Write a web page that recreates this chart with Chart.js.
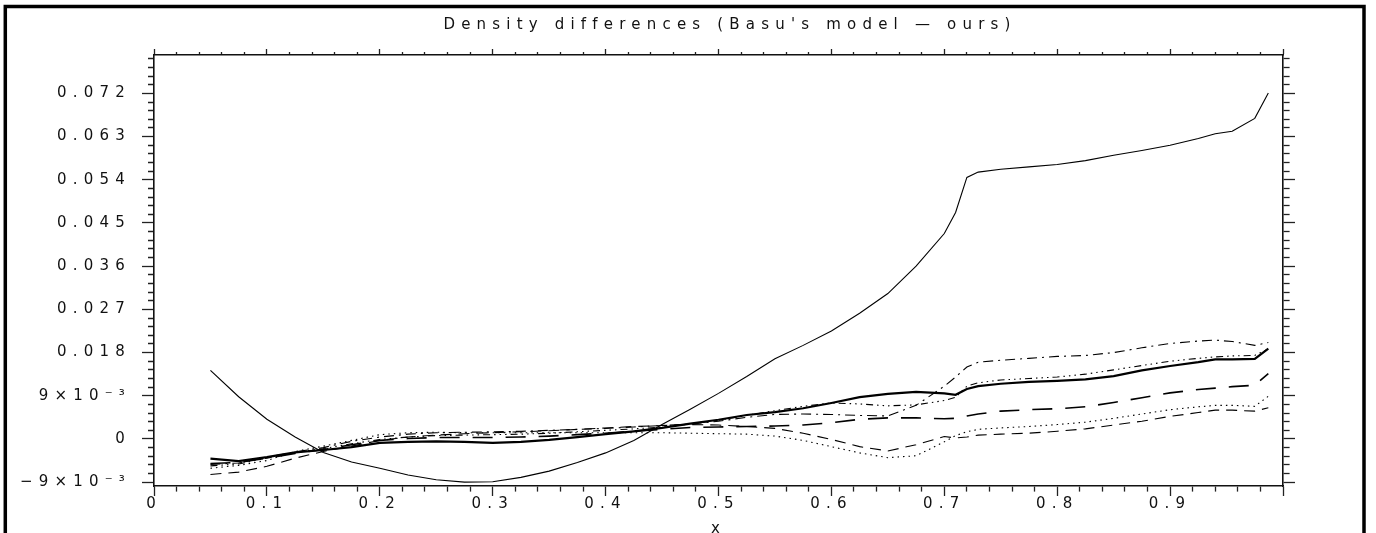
<!DOCTYPE html>
<html>
<head>
<meta charset="utf-8">
<script src="https://cdn.jsdelivr.net/npm/chart.js@4/dist/chart.umd.min.js"></script>
<style>
  html, body { margin: 0; padding: 0; background: #fff; }
  canvas { display: block; }
</style>
</head>
<body>
<canvas id="myChart" width="1376" height="533"></canvas>
<script>
// x positions shared by every curve
const xValues = [0.05, 0.075, 0.1, 0.125, 0.15, 0.175, 0.2, 0.225, 0.25, 0.275,
  0.3, 0.325, 0.35, 0.375, 0.4, 0.425, 0.45, 0.475, 0.5, 0.525,
  0.55, 0.575, 0.6, 0.625, 0.65, 0.675, 0.7, 0.71, 0.72, 0.73,
  0.75, 0.775, 0.8, 0.825, 0.85, 0.875, 0.9, 0.925, 0.94, 0.955,
  0.975, 0.987];

const thinSolid = [0.0143, 0.0088, 0.0041, 0.0004, -0.0028, -0.0048, -0.0061, -0.0075, -0.0085, -0.0090,
  -0.0089, -0.0080, -0.0067, -0.0049, -0.0029, -0.0003, 0.0030, 0.0062, 0.0095, 0.0130,
  0.0167, 0.0195, 0.0225, 0.0262, 0.0303, 0.0360, 0.0428, 0.0472, 0.0545, 0.0556,
  0.0562, 0.0567, 0.0572, 0.0580, 0.0591, 0.0601, 0.0612, 0.0626, 0.0636, 0.0641,
  0.0668, 0.0721];

const thickSolid = [-0.0041, -0.0046, -0.0038, -0.0028, -0.0023, -0.0017, -0.0008, -0.0006, -0.0005, -0.0006,
  -0.0008, -0.0006, -0.0002, 0.0004, 0.0010, 0.0016, 0.0023, 0.0032, 0.0040, 0.0050,
  0.0056, 0.0064, 0.0075, 0.0087, 0.0094, 0.0098, 0.0095, 0.0092, 0.0104, 0.0110,
  0.0115, 0.0119, 0.0121, 0.0124, 0.0131, 0.0143, 0.0152, 0.0160, 0.0166, 0.0166,
  0.0167, 0.0188];

const dashDot = [-0.0053, -0.0050, -0.0038, -0.0027, -0.0018, -0.0005, 0.0004, 0.0010, 0.0013, 0.0014,
  0.0015, 0.0016, 0.0018, 0.0020, 0.0022, 0.0025, 0.0028, 0.0031, 0.0037, 0.0045,
  0.0051, 0.0052, 0.0051, 0.0049, 0.0048, 0.0070, 0.0110, 0.0129, 0.0150, 0.0160,
  0.0164, 0.0168, 0.0172, 0.0174, 0.0180, 0.0190, 0.0199, 0.0204, 0.0206, 0.0203,
  0.0195, 0.0201];

const dashDotDot = [-0.0056, -0.0052, -0.0040, -0.0028, -0.0020, -0.0010, -0.0001, 0.0004, 0.0007, 0.0008,
  0.0009, 0.0010, 0.0012, 0.0015, 0.0018, 0.0021, 0.0025, 0.0031, 0.0039, 0.0049,
  0.0059, 0.0068, 0.0075, 0.0073, 0.0069, 0.0071, 0.0080, 0.0087, 0.0110, 0.0117,
  0.0123, 0.0126, 0.0129, 0.0135, 0.0144, 0.0153, 0.0162, 0.0168, 0.0171, 0.0173,
  0.0174, 0.0188];

const longDash = [-0.0051, -0.0049, -0.0040, -0.0030, -0.0022, -0.0012, -0.0003, 0.0001, 0.0003, 0.0003,
  0.0003, 0.0004, 0.0006, 0.0009, 0.0012, 0.0016, 0.0020, 0.0024, 0.0025, 0.0026,
  0.0027, 0.0029, 0.0034, 0.0041, 0.0044, 0.0044, 0.0042, 0.0043, 0.0048, 0.0052,
  0.0058, 0.0061, 0.0063, 0.0067, 0.0076, 0.0086, 0.0096, 0.0103, 0.0106, 0.0109,
  0.0112, 0.0136];

const dotted = [-0.0061, -0.0055, -0.0045, -0.0026, -0.0015, -0.0003, 0.0009, 0.0013, 0.0014, 0.0013,
  0.0013, 0.0013, 0.0013, 0.0013, 0.0013, 0.0013, 0.0013, 0.0012, 0.0011, 0.0010,
  0.0006, -0.0003, -0.0016, -0.0029, -0.0039, -0.0035, -0.0006, 0.0007, 0.0015, 0.0020,
  0.0023, 0.0026, 0.0030, 0.0035, 0.0043, 0.0052, 0.0061, 0.0067, 0.0070, 0.0070,
  0.0068, 0.0089];

const dashed = [-0.0074, -0.0069, -0.0057, -0.0040, -0.0026, -0.0015, -0.0003, 0.0004, 0.0008, 0.0011,
  0.0013, 0.0015, 0.0017, 0.0020, 0.0023, 0.0026, 0.0028, 0.0030, 0.0029, 0.0026,
  0.0022, 0.0012, -0.0001, -0.0016, -0.0025, -0.0012, 0.0005, 0.0002, 0.0004, 0.0008,
  0.0010, 0.0012, 0.0016, 0.0021, 0.0029, 0.0037, 0.0047, 0.0055, 0.0060, 0.0060,
  0.0058, 0.0065];

const xMajorTicks = [0, 0.1, 0.2, 0.3, 0.4, 0.5, 0.6, 0.7, 0.8, 0.9, 1];
const xTickLabels = ['0', '0.1', '0.2', '0.3', '0.4', '0.5', '0.6', '0.7', '0.8', '0.9', ''];
const yMajorTicks = [-0.009, 0, 0.009, 0.018, 0.027, 0.036, 0.045, 0.054, 0.063, 0.072];
const yTickLabels = ['\u22129\u00d710\u207b\u00b3', '0', '9\u00d710\u207b\u00b3', '0.018', '0.027',
  '0.036', '0.045', '0.054', '0.063', '0.072'];

const FONT = { family: 'DejaVu Sans', size: 15, weight: 'normal' };
const LETTER_SPACING = '6.2px';

function stepTicks(start, end, step) {
  const out = [];
  for (let v = start; v <= end + 1e-9; v += step) {
    out.push(+v.toFixed(6));
  }
  return out;
}

function isMajor(value, majors) {
  return majors.some(m => Math.abs(m - value) < 1e-7);
}

function labelFor(value, majors, labels) {
  const i = majors.findIndex(m => Math.abs(m - value) < 1e-7);
  return i === -1 ? '' : labels[i];
}

function makeSeries(values, width, dash) {
  return {
    data: xValues.map((x, i) => ({ x, y: values[i] })),
    borderColor: '#000',
    borderWidth: width,
    borderDash: dash,
    pointRadius: 0,
    tension: 0,
    fill: false
  };
}

// tick marks: majors full length, minors only the part next to the axis
function axis(position, opts) {
  const horizontal = position === 'top' || position === 'bottom';
  const drawsInward = position === 'top' || position === 'left';
  const minorDash = drawsInward
    ? [0, opts.tickLength - opts.minorLength, opts.minorLength, 100]
    : [opts.minorLength, 100];
  return {
    type: 'linear',
    position,
    axis: horizontal ? 'x' : 'y',
    min: opts.min,
    max: opts.max,
    afterBuildTicks: scale => {
      scale.ticks = opts.ticks.map(value => ({ value }));
    },
    afterFit: scale => {
      if (horizontal) scale.height = opts.size;
      else scale.width = opts.size;
    },
    border: { display: true, color: '#111', width: 1.6 },
    grid: {
      drawOnChartArea: false,
      drawTicks: true,
      tickLength: opts.tickLength,
      tickWidth: 1.3,
      tickColor: '#222',
      tickBorderDash: ctx => isMajor(ctx.tick.value, opts.majors) ? [] : minorDash
    },
    ticks: {
      display: opts.showLabels,
      autoSkip: false,
      maxRotation: 0,
      minRotation: 0,
      padding: opts.padding || 0,
      color: '#111',
      font: FONT,
      callback: value => labelFor(value, opts.majors, opts.labels)
    },
    title: opts.title || { display: false }
  };
}

const spacingPlugin = {
  id: 'spacingAndFrame',
  beforeLayout(chart) { chart.ctx.letterSpacing = LETTER_SPACING; },
  beforeDraw(chart) { chart.ctx.letterSpacing = LETTER_SPACING; },
  afterDraw(chart) {
    const ctx = chart.ctx;
    ctx.save();
    ctx.lineWidth = 3.5;
    ctx.strokeStyle = '#000';
    ctx.beginPath();
    ctx.moveTo(5.3, chart.height + 5);
    ctx.lineTo(5.3, 6.5);
    ctx.lineTo(1364, 6.5);
    ctx.lineTo(1364, chart.height + 5);
    ctx.stroke();
    ctx.restore();
  }
};

const xTicks = stepTicks(0, 1, 0.02);
const yTicks = stepTicks(-0.009, 0.0792, 0.0018);

new Chart(document.getElementById('myChart'), {
  type: 'line',
  data: {
    datasets: [
      makeSeries(thinSolid, 1.1, []),
      makeSeries(thickSolid, 2.2, []),
      makeSeries(dashDot, 1.1, [10, 5, 2, 5]),
      makeSeries(dashDotDot, 1.1, [7, 4, 1.5, 4, 1.5, 4, 1.5, 4]),
      makeSeries(longDash, 1.6, [20, 13]),
      makeSeries(dotted, 1.1, [1.5, 4]),
      makeSeries(dashed, 1.1, [11, 7])
    ]
  },
  options: {
    responsive: false,
    animation: false,
    devicePixelRatio: 1,
    layout: { padding: { left: 0, right: -84, top: 0, bottom: 0 } },
    plugins: {
      legend: { display: false },
      tooltip: { enabled: false },
      title: {
        display: true,
        text: "Density differences (Basu's model \u2014 ours)",
        color: '#111',
        font: FONT,
        padding: { top: 16, bottom: 0 }
      }
    },
    scales: {
      x: axis('bottom', {
        min: 0, max: 1, ticks: xTicks, majors: xMajorTicks, labels: xTickLabels,
        tickLength: 10, minorLength: 5, size: 47, showLabels: true, padding: -1,
        title: { display: true, text: 'x', color: '#111', font: FONT, padding: { top: 0, bottom: -5 } }
      }),
      x2: axis('top', {
        min: 0, max: 1, ticks: xTicks, majors: xMajorTicks, labels: xTickLabels,
        tickLength: 6, minorLength: 3, size: 21, showLabels: false
      }),
      y: axis('left', {
        min: -0.0098, max: 0.08, ticks: yTicks, majors: yMajorTicks, labels: yTickLabels,
        tickLength: 12, minorLength: 6, size: 154, showLabels: true, padding: 11
      }),
      y2: axis('right', {
        min: -0.0098, max: 0.08, ticks: yTicks, majors: yMajorTicks, labels: yTickLabels,
        tickLength: 12, minorLength: 6, size: 177, showLabels: false
      })
    }
  },
  plugins: [spacingPlugin]
});
</script>
</body>
</html>
